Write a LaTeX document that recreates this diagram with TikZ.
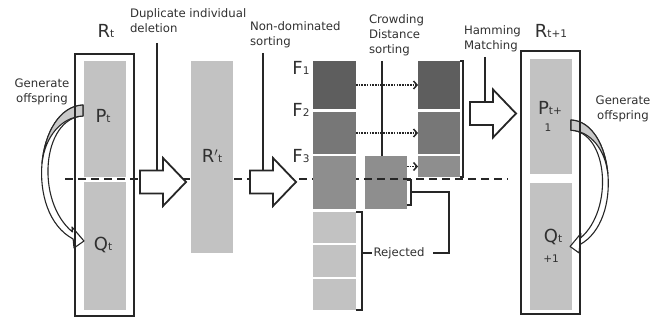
\documentclass[tikz,border=0pt]{standalone}
\usepackage{fontspec}
\setmainfont{DejaVu Sans}
\usetikzlibrary{arrows.meta}
\definecolor{ink}{HTML}{262626}
\definecolor{txt}{HTML}{303030}
\definecolor{popgrey}{HTML}{C2C2C2}
\definecolor{frontA}{HTML}{5E5E5E}
\definecolor{frontB}{HTML}{777777}
\definecolor{frontC}{HTML}{8E8E8E}
\definecolor{ribbon}{HTML}{C9C9C9}
% population symbol: large letter followed by a small index on the same baseline
\newcommand\poplbl[2]{{\fontsize{18}{20}\selectfont #1}{\fontsize{10.5}{12}\selectfont #2}}
\newcommand\smallidx[1]{{\fontsize{10.5}{12}\selectfont #1}}
% curved "generate offspring" ribbon, tail at the local origin, bending to negative x
\newcommand\offspringribbon{%
  \draw[ink,line width=1.1pt,fill=white,line join=round]
    (0,0) .. controls (-47,2) and (-59,108) .. (-9.86,134)
    -- (-9,143) -- (1,136) -- (-11,122) -- (-10.5,127)
    .. controls (-48,96) and (-41,13) .. (0,11) -- cycle;
  \draw[ink,line width=1.1pt,fill=ribbon,line join=round]
    (0,0) .. controls (-23.5,1) and (-38.25,28) .. (-41,58)
    .. controls (-38,32) and (-22,12) .. (0,11) -- cycle;
}
\begin{document}
\begin{tikzpicture}[x=1pt,y=-1pt,
  every node/.style={inner sep=0pt,outer sep=0pt},
  lbl/.style={font=\fontsize{11.7}{15}\selectfont,text=txt,align=left},
  bigtxt/.style={text=txt},
  popframe/.style={draw=ink,line width=2pt,minimum width=59pt},
  popbox/.style={fill=popgrey,minimum width=42pt},
  frontbox/.style={minimum width=43pt},
  cutline/.style={draw=ink,line width=1.6pt,dash pattern=on 8pt off 5pt},
  linkline/.style={draw=ink,line width=1.5pt},
  dotmove/.style={draw=ink,line width=1.9pt,dash pattern=on 1.6pt off 1.1pt,
    -{Straight Barb[length=3.5pt,width=8pt,line width=1.5pt]}},
  brk/.style={draw=ink,line width=1.2pt},
  blockarrow/.pic={
    \draw[ink,line width=1.8pt,fill=white,line join=miter]
      (0,-11.5) -- (23,-11.5) -- (23,-24) -- (46,0) -- (23,24)
      -- (23,11.5) -- (0,11.5) -- cycle;
  },
]
\useasboundingbox (0,0) rectangle (664,320);

% grey halves of the two populations
\node[popbox,minimum height=116pt] (P)  at (105,119)   {};
\node[popbox,minimum height=128pt] (Q)  at (105,246)   {};
\node[popbox,minimum height=115pt] (P1) at (551,116.5) {};
\node[popbox,minimum height=127pt] (Q1) at (551,246.5) {};

% offspring generation ribbons
\begin{scope}[shift={(83,105)}]
  \offspringribbon
\end{scope}
\begin{scope}[shift={(571,120)},xscale=-0.9,yscale=0.93]
  \offspringribbon
\end{scope}

% population frames
\node[popframe,minimum height=262pt] (Rt)  at (104.5,185) {};
\node[popframe,minimum height=263pt] (Rt1) at (550.5,182.5) {};

% crowding-distance candidate block (lies under the cut line)
\node[frontbox,fill=frontC,minimum width=42pt,minimum height=53pt] (C) at (386,182.5) {};

% population size cut
\coordinate (cutL) at (65,179);
\coordinate (cutR) at (508,179);
\draw[cutline] (cutL) -- (cutR);

% merged population after duplicate deletion
\node[popbox,minimum height=192pt] (Rp) at (212,157) {};

% non-dominated fronts
\node[frontbox,fill=frontA,minimum height=48pt] (F1) at (334.5,85)    {};
\node[frontbox,fill=frontB,minimum height=42pt] (F2) at (334.5,133)   {};
\node[frontbox,fill=frontC,minimum height=53pt] (F3) at (334.5,182.5) {};
\node[frontbox,fill=popgrey,minimum height=31pt] (R1) at (334.5,227.5) {};
\node[frontbox,fill=popgrey,minimum height=32pt] (R2) at (334.5,261)   {};
\node[frontbox,fill=popgrey,minimum height=31pt] (R3) at (334.5,294.5) {};

% selected individuals
\node[frontbox,fill=frontA,minimum width=42pt,minimum height=48pt] (S1) at (439,85)    {};
\node[frontbox,fill=frontB,minimum width=42pt,minimum height=42pt] (S2) at (439,133)   {};
\node[frontbox,fill=frontC,minimum width=42pt,minimum height=21pt] (S3) at (439,166.5) {};

% process arrows
\pic at (140,182) {blockarrow};
\pic at (250,182) {blockarrow};
\pic at (470,113.5) {blockarrow};

% leader lines from the step labels to the arrows
\coordinate (dupA) at (157,43);   \coordinate (dupB) at (157,170.5);
\coordinate (ndsA) at (263,53);   \coordinate (ndsB) at (263,170.5);
\coordinate (cdsA) at (382,61);   \coordinate (cdsB) at (382,156);
\coordinate (hamA) at (485,57);   \coordinate (hamB) at (485,102);
\draw[linkline] (dupA) -- (dupB);
\draw[linkline] (ndsA) -- (ndsB);
\draw[linkline] (cdsA) -- (cdsB);
\draw[linkline] (hamA) -- (hamB);

% fronts copied into the next population
\draw[dotmove] (F1.east) -- (S1.west);
\draw[dotmove] (F2.east) -- (S2.west);
\draw[dotmove] (S3.west -| C.east) -- (S3.west);

% brackets
\draw[brk] (S1.north east) -- ++(3,0) |- (S3.south east);
\draw[brk] (R1.north east) -- ++(6,0) |- (R3.south east);
\coordinate (cTop) at (407,180);
\coordinate (cBot) at (407,205);
\draw[brk] (cTop) -- ++(4,0) |- (cBot);

% rejected individuals
\node[lbl,anchor=center] (rej) at (399,253) {Rejected};
\coordinate (rejTick) at (362,253);
\draw[brk] (rejTick) -- ([xshift=-2pt]rej.west);
\coordinate (cMid) at (411,192);
\draw[brk] (cMid) -| (449,253) -- ([xshift=9pt]rej.east);

% step labels
\node[lbl,anchor=north west] (dupL) at (130,9)  {Duplicate individual\\deletion};
\node[lbl,anchor=north west] (ndsL) at (250,22) {Non-dominated\\sorting};
\node[lbl,anchor=north west] (cdsL) at (369,15) {Crowding\\Distance\\sorting};
\node[lbl,anchor=north west] (hamL) at (464,26) {Hamming\\Matching};
\node[lbl,anchor=north,align=center] (genL) at (42,79) {Generate\\offspring};
\node[lbl,anchor=north,align=center] (genR) at (623,96) {Generate\\offspring};

% population symbols
\node[bigtxt,anchor=base] (RtL)  at (106,38)  {\poplbl{R}{t}};
\node[bigtxt,anchor=base] (PtL)  at (103,123) {\poplbl{P}{t}};
\node[bigtxt,anchor=base] (QtL)  at (103,251) {\poplbl{Q}{t}};
\node[bigtxt,anchor=base] (RpL)  at (212,163) {\poplbl{R$'$}{t}};
\node[bigtxt,anchor=base] (F1L)  at (301,75)  {\poplbl{F}{1}};
\node[bigtxt,anchor=base] (F2L)  at (301,117) {\poplbl{F}{2}};
\node[bigtxt,anchor=base] (F3L)  at (301,163) {\poplbl{F}{3}};
\node[bigtxt,anchor=base] (Rt1L) at (551,38)  {\poplbl{R}{t+1}};
\node[bigtxt,anchor=base] (P1L)  at (550,115) {\poplbl{P}{t+}};
\node[bigtxt,anchor=base] (P1M)  at (548,132) {\smallidx{1}};
\node[bigtxt,anchor=base] (Q1L)  at (553,243) {\poplbl{Q}{t}};
\node[bigtxt,anchor=base] (Q1M)  at (551,263) {\smallidx{+1}};
\end{tikzpicture}
\end{document}
